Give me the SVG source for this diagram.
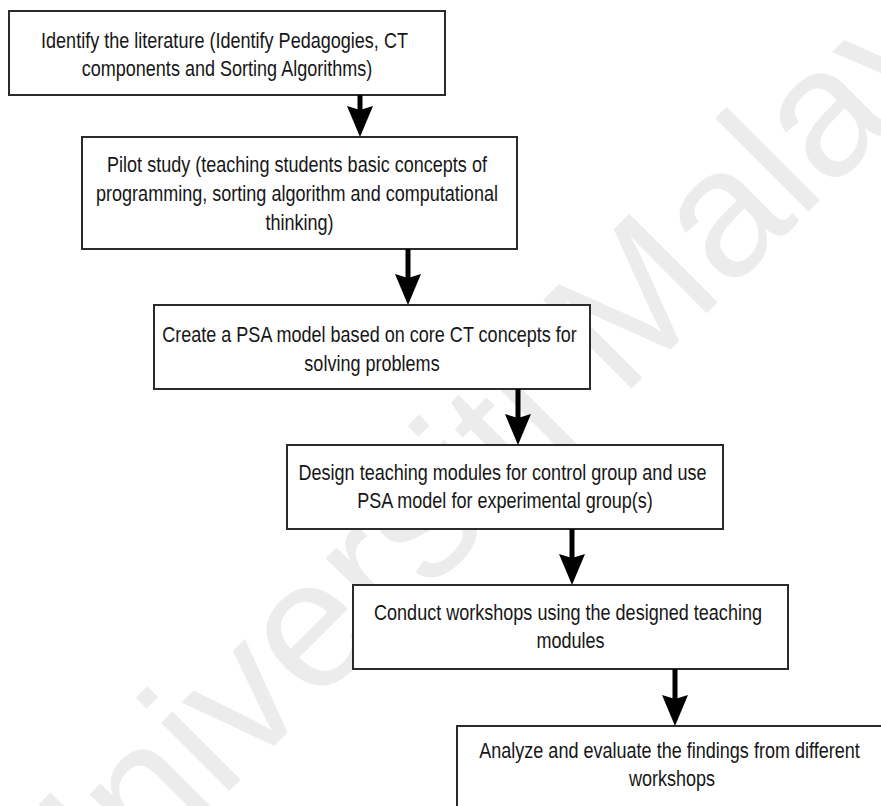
<svg xmlns="http://www.w3.org/2000/svg" width="881" height="806" viewBox="0 0 881 806">
  <style>
    .box { fill: #ffffff; stroke: #2b2b2b; stroke-width: 2; }
    .label { font-family: "Liberation Sans", Arial, Helvetica, sans-serif; font-size: 22px; fill: #161616; text-anchor: middle; }
    .link { stroke: #000000; stroke-width: 5; fill: none; marker-end: url(#head); }
    .mark { font-family: "Liberation Sans", Arial, Helvetica, sans-serif; font-size: 182px; fill: #ececec; }
  </style>
  <defs>
    <marker id="head" markerUnits="userSpaceOnUse" viewBox="0 0 31 26" markerWidth="31" markerHeight="26" refX="11" refY="13" orient="auto">
      <path d="M0,0 L31,13 L0,26 L4,13 Z" fill="#000000"/>
    </marker>
  </defs>

  <rect width="881" height="806" fill="#ffffff"/>

  <!-- watermark -->
  <text class="mark" x="56" y="964" transform="rotate(-45 56 964)">Universiti Malaya</text>

  <!-- process steps -->
  <g id="step1">
    <rect class="box" x="9" y="11" width="436" height="84"/>
    <text class="label" transform="translate(227 0) scale(0.82 1)">
      <tspan x="0" y="48">Identify the literature (Identify Pedagogies, CT</tspan>
      <tspan x="0" y="76">components and Sorting Algorithms)</tspan>
    </text>
  </g>

  <g id="step2">
    <rect class="box" x="82" y="137" width="435" height="112"/>
    <text class="label" transform="translate(299.5 0) scale(0.82 1)">
      <tspan x="0" y="172">Pilot study (teaching students basic concepts of</tspan>
      <tspan x="0" y="201">programming, sorting algorithm and computational</tspan>
      <tspan x="0" y="230">thinking)</tspan>
    </text>
  </g>

  <g id="step3">
    <rect class="box" x="154" y="305" width="436" height="84"/>
    <text class="label" transform="translate(372 0) scale(0.82 1)">
      <tspan x="0" y="342">Create a PSA model based on core CT concepts for</tspan>
      <tspan x="0" y="371">solving problems</tspan>
    </text>
  </g>

  <g id="step4">
    <rect class="box" x="287" y="445" width="436" height="84"/>
    <text class="label" transform="translate(505 0) scale(0.82 1)">
      <tspan x="0" y="480">Design teaching modules for control group and use</tspan>
      <tspan x="0" y="508">PSA model for experimental group(s)</tspan>
    </text>
  </g>

  <g id="step5">
    <rect class="box" x="353" y="585" width="435" height="84"/>
    <text class="label" transform="translate(570.5 0) scale(0.82 1)">
      <tspan x="0" y="620">Conduct workshops using the designed teaching</tspan>
      <tspan x="0" y="648">modules</tspan>
    </text>
  </g>

  <g id="step6">
    <rect class="box" x="457" y="726" width="436" height="86"/>
    <text class="label" transform="translate(672 0) scale(0.82 1)">
      <tspan x="0" y="758">Analyze and evaluate the findings from different</tspan>
      <tspan x="0" y="786">workshops</tspan>
    </text>
  </g>

  <!-- connectors -->
  <g id="connectors">
    <line class="link" x1="360" y1="95" x2="360" y2="117"/>
    <line class="link" x1="408" y1="249" x2="408" y2="285"/>
    <line class="link" x1="518" y1="389" x2="518" y2="425"/>
    <line class="link" x1="572" y1="529" x2="572" y2="565"/>
    <line class="link" x1="675" y1="669" x2="675" y2="706"/>
  </g>
</svg>
